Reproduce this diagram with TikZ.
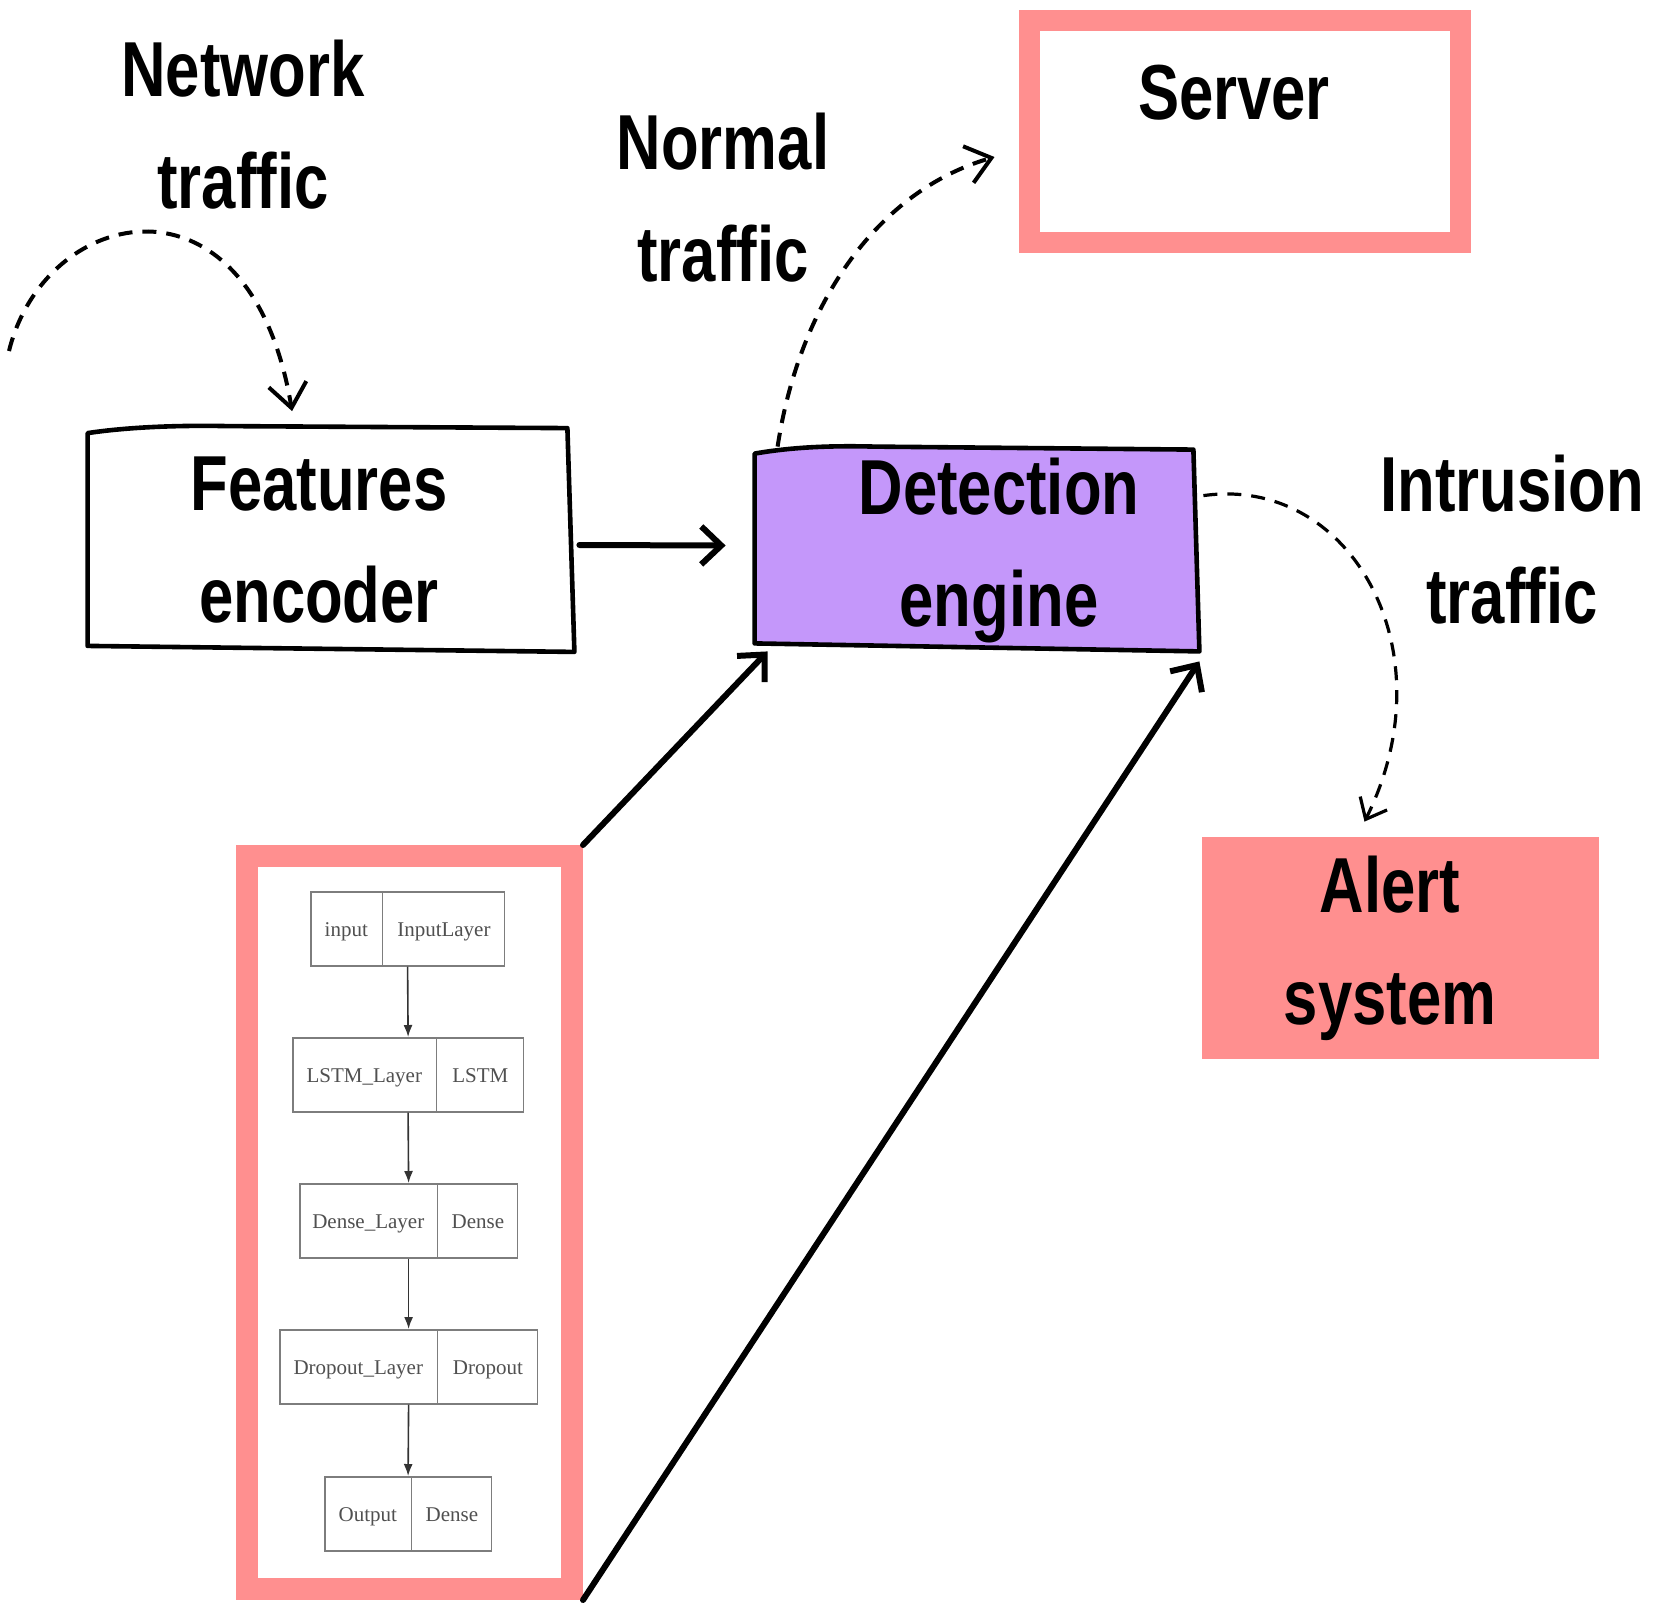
\documentclass[tikz,border=0pt]{standalone}
\usepackage{fontspec}
\setmainfont{Liberation Sans}
\newfontfamily\cond[FakeStretch=0.79]{Liberation Sans}
\newfontfamily\layerfont{Liberation Serif}
\usetikzlibrary{arrows.meta,calc,shapes.multipart,backgrounds}
\definecolor{pinkc}{RGB}{255,143,143}
\definecolor{purpc}{RGB}{196,151,250}
\definecolor{layergray}{RGB}{125,125,125}
\definecolor{layertext}{RGB}{80,80,80}
\newcommand\laypart[2]{\makebox[#1]{\rule[-14.5pt]{0pt}{37pt}#2}}
\begin{document}
\begin{tikzpicture}[x=0.5pt,y=-0.5pt,
  lbl/.style={font=\cond\bfseries\fontsize{39pt}{56pt}\selectfont, align=center, inner sep=0pt},
  sketch/.style={line width=2.3pt, line join=round, line cap=round},
  thickarrow/.style={line width=3pt, line cap=round, -{Straight Barb[length=10pt,width=19pt]}},
  dasharrow/.style={line width=2pt, dash pattern=on 7pt off 5pt, -{Straight Barb[length=12pt,width=19pt]}},
  pinkframe/.style={draw=pinkc, fill=white, inner sep=0pt},
  layerbox/.style={rectangle split, rectangle split horizontal, rectangle split parts=2,
    draw=layergray, line width=0.8pt, inner sep=0pt, anchor=north west,
    font=\layerfont\fontsize{10.5pt}{12pt}\selectfont, text=layertext},
  layerarrow/.style={line width=0.8pt, draw=black!80, -{Latex[length=6pt,width=4.5pt]}}
]
\useasboundingbox (0,0) rectangle (1667,1607);

% main boxes
\node[lbl, minimum width=243pt, minimum height=108.5pt] (feat) at (331,540) {\raisebox{-5pt}{Features}\hspace*{12pt}\\\raisebox{-5pt}{encoder}\hspace*{12pt}};
\node[lbl, minimum width=222pt, minimum height=100.5pt] (det) at (977,550.5) {\hspace*{22pt}\raisebox{-5pt}{Detection}\\\hspace*{22pt}\raisebox{-5pt}{engine}};
\node[pinkframe, line width=10.5pt, minimum width=215.5pt, minimum height=111pt] (server) at (1244.5,131) {};
\node[lbl] (servertxt) at (1234,93) {Server};
\node[fill=pinkc, inner sep=0pt, minimum width=198.5pt, minimum height=111pt] (alertbox) at (1400.5,948) {};
\node[lbl] (alerttxt) at (1390,948) {Alert\\system};
\node[pinkframe, line width=11pt, minimum width=162.5pt, minimum height=366.5pt] (model) at (409.5,1222.5) {};

% free labels
\node[lbl] (nettxt) at (243,125) {Network\\traffic};
\node[lbl] (normtxt) at (723,198) {Normal\\traffic};
\node[lbl] (intrtxt) at (1512,540) {Intrusion\\traffic};

% sketchy outlines
\begin{scope}[on background layer]
\draw[sketch, fill=white]
  ($(feat.north west)+(0,2)$) .. controls ($(feat.north west)+(40,-4)$) and ($(feat.north west)+(90,-6)$) .. ($(feat.north west)+(140,-5)$)
  -- ($(feat.north east)+(-7,-3)$) -- ($(feat.south east)+(0,3)$) -- ($(feat.south west)+(0,-3)$) -- cycle;
\draw[sketch, fill=purpc]
  ($(det.north west)+(0,4)$) .. controls ($(det.north west)+(40,-3)$) and ($(det.north west)+(80,-4)$) .. ($(det.north west)+(120,-3)$)
  -- ($(det.north east)+(-6,0)$) -- (det.south east) -- ($(det.south west)+(0,-8)$) -- cycle;
\end{scope}

% model layers
\node[layerbox] (l1) at (310,891) {\laypart{35.5pt}{input}\nodepart{two}\laypart{60.5pt}{InputLayer}};
\node[layerbox] (l2) at (292,1037) {\laypart{71.5pt}{LSTM\_Layer}\nodepart{two}\laypart{43pt}{LSTM}};
\node[layerbox] (l3) at (299,1183) {\laypart{68.5pt}{Dense\_Layer}\nodepart{two}\laypart{39.5pt}{Dense}};
\node[layerbox] (l4) at (279,1329) {\laypart{78.5pt}{Dropout\_Layer}\nodepart{two}\laypart{49.5pt}{Dropout}};
\node[layerbox] (l5) at (324,1476) {\laypart{43pt}{Output}\nodepart{two}\laypart{39.5pt}{Dense}};
\draw[layerarrow] (l1.south) -- (l2.north);
\draw[layerarrow] (l2.south) -- (l3.north);
\draw[layerarrow] (l3.south) -- (l4.north);
\draw[layerarrow] (l4.south) -- (l5.north);

% solid connectors
\draw[thickarrow] ($(feat.east)+(5,5)$) -- ($(det.west)+(-29,-5)$);
\draw[thickarrow] (model.north east) -- ($(det.south west)+(13,0)$);
\draw[thickarrow] (model.south east) -- ($(det.south east)+(0,10)$);

% dashed connectors
\coordinate (netsrc) at (9,351);
\draw[dasharrow] (netsrc) .. controls (45,205) and (250,160) .. ($(feat.north west)!0.42!(feat.north east)+(0,-20)$);
\draw[dasharrow] ($(det.north west)+(23,-3)$) .. controls (800,300) and (880,190) .. ($(server.west)+(-24,26)$);
\draw[dasharrow, line width=1.6pt, -{Straight Barb[length=9pt,width=15pt]}] ($(det.north east)+(4,46)$) .. controls (1350,475) and (1450,650) .. ($(alertbox.north)+(-36,-15)$);
\end{tikzpicture}
\end{document}
